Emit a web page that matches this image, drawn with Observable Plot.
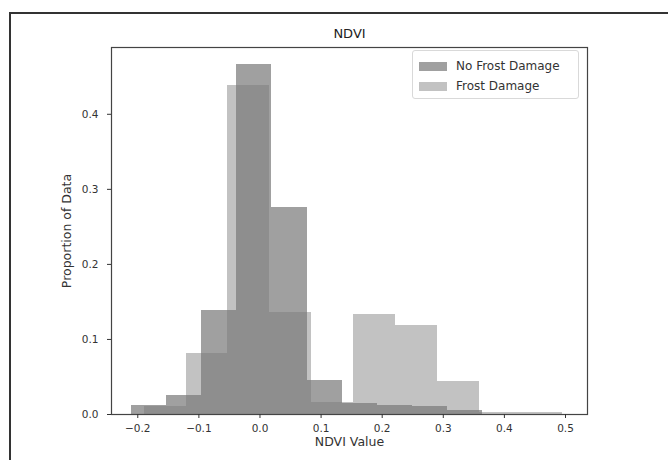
<!DOCTYPE html>
<html>
<head>
<meta charset="utf-8">
<script src="https://cdn.jsdelivr.net/npm/d3@7"></script>
<script src="https://cdn.jsdelivr.net/npm/@observablehq/plot@0.6"></script>
<style>
  html, body { margin: 0; padding: 0; background: #fff; }
  #wrap { position: relative; width: 668px; height: 460px; overflow: hidden; font-family: "DejaVu Sans", sans-serif; }
  #border { position: absolute; left: 9px; top: 12px; width: 700px; height: 500px; border-top: 2px solid #333; border-left: 2px solid #333; }
  #chart { position: absolute; left: 0; top: 0; }
  #legend { position: absolute; left: 412px; top: 50px; width: 167px; height: 49px; border: 1px solid #d9d9d9; border-radius: 3px; background: rgba(255,255,255,0.8); box-sizing: border-box; }
  .item { position: absolute; left: 6px; height: 14px; display: flex; align-items: center; font-size: 12px; color: #333; white-space: nowrap; }
  .sw { width: 28px; height: 9px; margin-right: 9px; }
</style>
</head>
<body>
<div id="wrap">
  <div id="border"></div>
  <div id="chart"></div>
  <div id="legend"></div>
</div>
<script>
// Series names
const seriesNames = ["No Frost Damage", "Frost Damage"];

// No Frost Damage histogram: bin edges and proportions
const noFrostEdges = [-0.2105, -0.153, -0.0955, -0.038, 0.0195, 0.077, 0.1345, 0.192, 0.2495, 0.307, 0.3645];
const noFrostHeights = [0.012, 0.025, 0.139, 0.466, 0.276, 0.045, 0.015, 0.012, 0.010, 0.005];

// Frost Damage histogram: bin edges and proportions
const frostEdges = [-0.1895, -0.121, -0.0525, 0.016, 0.0845, 0.153, 0.2215, 0.29, 0.3585, 0.427, 0.4955];
const frostHeights = [0.010, 0.081, 0.439, 0.136, 0.016, 0.133, 0.119, 0.044, 0.003, 0.003];

// Tick values
const xTicks = [-0.2, -0.1, 0.0, 0.1, 0.2, 0.3, 0.4, 0.5];
const yTicks = [0.0, 0.1, 0.2, 0.3, 0.4];

const colors = { noFrost: "#a0a0a0", frost: "#787878", frostOpacity: 0.453, frostLegend: "#c2c2c2" };

const toBins = (edges, heights) => heights.map((h, i) => ({ x0: edges[i], x1: edges[i + 1], h }));
const noFrost = toBins(noFrostEdges, noFrostHeights);
const frost = toBins(frostEdges, frostHeights);

const fmt = d => d.toFixed(1).replace("-", "\u2212");

const chart = Plot.plot({
  width: 668,
  height: 460,
  marginLeft: 111,
  marginRight: 81,
  marginTop: 47,
  marginBottom: 46,
  style: { fontFamily: "DejaVu Sans, sans-serif", fontSize: "10.5px", color: "#333", background: "transparent", overflow: "visible" },
  x: { domain: [-0.243, 0.536], label: null },
  y: { domain: [0, 0.489], label: null },
  marks: [
    Plot.rectY(noFrost, { x1: "x0", x2: "x1", y: "h", fill: colors.noFrost, shapeRendering: "crispEdges" }),
    Plot.rectY(frost, { x1: "x0", x2: "x1", y: "h", fill: colors.frost, fillOpacity: colors.frostOpacity, shapeRendering: "crispEdges" }),
    Plot.frame({ stroke: "#444", strokeWidth: 1.2 }),
    Plot.axisX({ ticks: xTicks, tickFormat: fmt, tickSize: 4, tickPadding: 6, label: null, stroke: "#333", fill: "#333" }),
    Plot.axisY({ ticks: yTicks, tickFormat: fmt, tickSize: 4, tickPadding: 9, label: null, stroke: "#333", fill: "#333" }),
    Plot.text(["NDVI"], { frameAnchor: "top", lineAnchor: "bottom", dy: -10, fontSize: 13, fill: "#222" }),
    Plot.text(["NDVI Value"], { frameAnchor: "bottom", lineAnchor: "middle", dy: 27, fontSize: 12.5, fill: "#333" }),
    Plot.text(["Proportion of Data"], { frameAnchor: "left", textAnchor: "middle", lineAnchor: "middle", rotate: -90, dx: -45, fontSize: 12.5, fill: "#333" })
  ]
});
document.getElementById("chart").appendChild(chart);

// Legend
const legend = document.getElementById("legend");
const legendFills = [colors.noFrost, colors.frostLegend];
seriesNames.forEach((name, i) => {
  const item = document.createElement("div");
  item.className = "item";
  item.style.top = (8 + i * 20) + "px";
  const sw = document.createElement("div");
  sw.className = "sw";
  sw.style.background = legendFills[i];
  item.appendChild(sw);
  item.appendChild(document.createTextNode(name));
  legend.appendChild(item);
});
</script>
</body>
</html>
